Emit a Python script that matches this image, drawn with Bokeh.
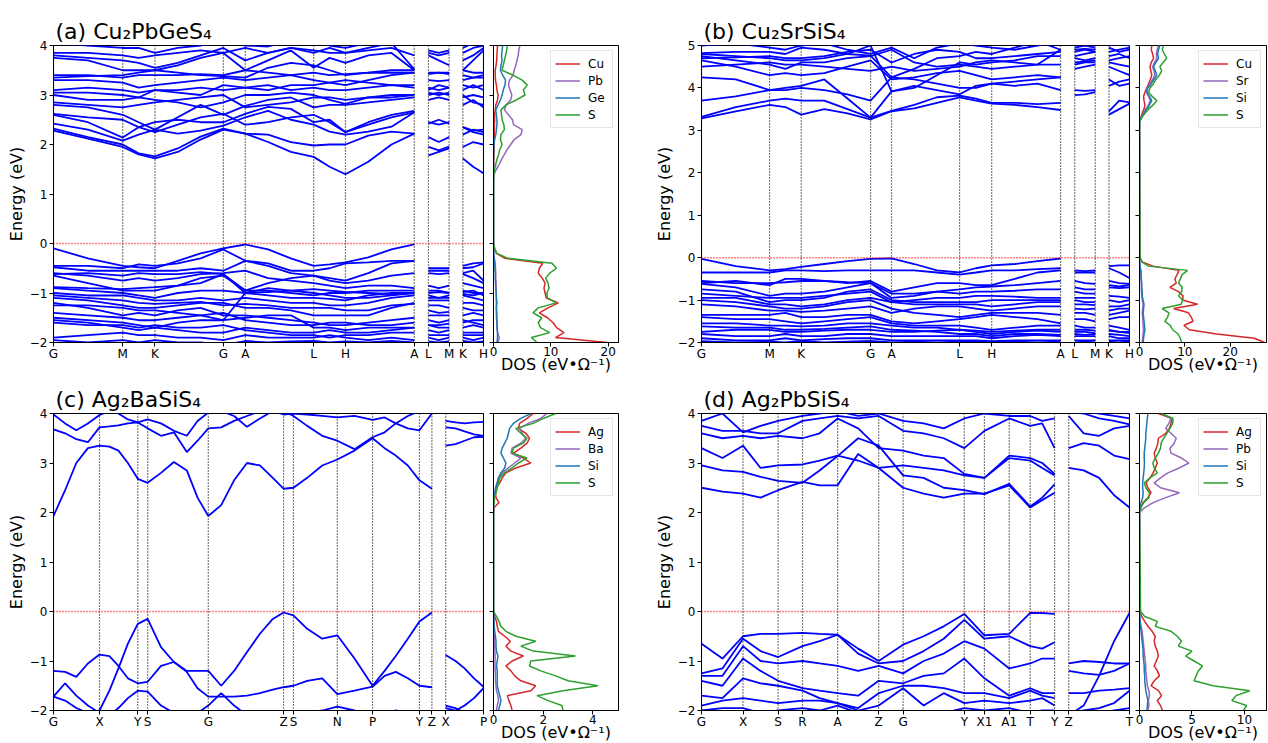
from bokeh.plotting import figure
from bokeh.layouts import row, column
from bokeh.models import Range1d, FixedTicker, Span
from bokeh.embed import file_html
from bokeh.resources import INLINE

FONT = "DejaVu Sans"
BAND_COLOR = "#0000ff"
SPECIES_COLORS = ["#d62728", "#9467bd", "#1f77b4", "#2ca02c"]
FRAME_H = 297

# ---------------------------------------------------------------- panel (a) Cu2PbGeS4
kpos_a = [0, 161, 236, 395, 446, 605, 679, 839, 872, 920, 952, 1000]
klab_a = ["G", "M", "K", "G", "A", "L", "H", "A", "L", "M", "K", "H"]
ksample_a = [0, 80, 161, 198, 236, 289, 342, 395, 446, 499, 552, 605, 642, 679, 732, 786, 839,
             872, 896, 920, 952, 976, 1000]
pieces_a = [(0, 17), (17, 20), (20, 23)]
cond_a = [
    [2.28, 2.12, 1.95, 1.80, 1.72, 1.85, 2.10, 2.30, 2.22, 2.05, 1.85, 1.75, 1.55, 1.40, 1.65, 2.00, 2.22, 1.78, 1.85, 1.92, 1.72, 1.55, 1.42],
    [2.32, 2.15, 2.00, 1.82, 1.76, 1.92, 2.16, 2.32, 2.22, 2.20, 2.05, 1.98, 2.00, 2.00, 2.18, 2.26, 2.22, 1.95, 1.88, 1.96, 1.95, 2.05, 2.00],
    [2.42, 2.30, 2.08, 2.20, 2.30, 2.22, 2.28, 2.38, 2.55, 2.68, 2.50, 2.40, 2.26, 2.20, 2.26, 2.36, 2.65, 2.15, 2.05, 2.15, 2.20, 2.30, 2.25],
    [2.60, 2.45, 2.14, 2.35, 2.45, 2.50, 2.45, 2.45, 2.62, 2.76, 2.72, 2.45, 2.50, 2.25, 2.45, 2.60, 2.68, 2.42, 2.50, 2.42, 2.35, 2.28, 2.30],
    [2.62, 2.55, 2.50, 2.35, 2.25, 2.40, 2.55, 2.62, 2.40, 2.45, 2.55, 2.60, 2.45, 2.25, 2.40, 2.55, 2.65, 2.45, 2.40, 2.45, 2.35, 2.25, 2.20],
    [2.80, 2.75, 2.60, 2.45, 2.30, 2.55, 2.80, 2.60, 2.78, 2.90, 2.95, 2.75, 2.80, 2.80, 2.85, 2.90, 2.95, 2.90, 2.95, 2.90, 2.80, 2.90, 2.75],
    [2.85, 2.80, 2.75, 2.80, 2.85, 2.90, 2.95, 3.00, 2.75, 2.80, 2.85, 2.95, 2.95, 2.90, 2.95, 2.95, 3.00, 3.00, 3.05, 3.00, 2.95, 3.00, 2.95],
    [3.00, 2.90, 2.90, 2.95, 2.90, 2.85, 2.75, 2.85, 3.00, 3.00, 3.05, 3.00, 2.90, 2.82, 2.95, 3.00, 3.00, 3.05, 3.00, 3.05, 3.00, 2.85, 2.80],
    [3.05, 3.05, 3.00, 2.95, 3.10, 3.05, 3.00, 3.20, 3.15, 3.20, 3.10, 3.15, 3.10, 3.10, 3.15, 3.20, 3.15, 3.10, 3.20, 3.15, 3.10, 3.20, 3.10],
    [3.10, 3.15, 3.10, 3.05, 3.10, 3.10, 3.15, 3.10, 3.15, 3.10, 3.20, 3.20, 3.25, 3.30, 3.25, 3.20, 3.20, 3.15, 3.10, 3.15, 3.20, 3.15, 3.20],
    [3.30, 3.30, 3.25, 3.15, 3.20, 3.25, 3.30, 3.35, 3.30, 3.35, 3.40, 3.30, 3.25, 3.20, 3.30, 3.40, 3.45, 3.30, 3.28, 3.30, 3.30, 3.35, 3.40],
    [3.35, 3.38, 3.40, 3.45, 3.50, 3.45, 3.40, 3.38, 3.35, 3.55, 3.65, 3.60, 3.50, 3.40, 3.45, 3.45, 3.45, 3.42, 3.45, 3.42, 3.40, 3.35, 3.35],
    [3.40, 3.40, 3.35, 3.40, 3.40, 3.40, 3.42, 3.40, 3.50, 3.45, 3.40, 3.45, 3.40, 3.42, 3.45, 3.50, 3.50, 3.45, 3.45, 3.45, 3.50, 3.45, 3.45],
    [3.75, 3.70, 3.50, 3.50, 3.50, 3.60, 3.75, 3.85, 3.50, 3.70, 3.90, 3.55, 3.75, 3.65, 3.80, 3.85, 3.50, 3.80, 3.70, 3.60, 3.50, 3.70, 3.90],
    [3.80, 3.75, 3.70, 3.65, 3.55, 3.65, 3.80, 3.95, 3.70, 3.85, 3.95, 3.85, 3.95, 3.85, 3.90, 3.95, 3.80, 3.85, 3.80, 3.85, 3.70, 3.80, 3.95],
    [3.85, 3.85, 3.80, 3.75, 3.80, 3.85, 3.90, 3.85, 3.95, 3.85, 3.95, 3.90, 3.85, 3.85, 3.95, 4.05, 3.52, 3.90, 3.85, 3.90, 3.85, 3.95, 4.00],
    [4.05, 4.00, 3.95, 3.95, 3.85, 3.95, 4.00, 4.10, 4.00, 3.98, 4.10, 4.10, 4.00, 3.95, 4.05, 4.10, 4.05, 4.05, 4.10, 4.05, 3.95, 4.05, 4.10],
]
val_a = [
    [-0.10, -0.30, -0.45, -0.48, -0.50, -0.35, -0.20, -0.10, -0.02, -0.12, -0.30, -0.45, -0.42, -0.38, -0.28, -0.12, -0.02, -0.50, -0.50, -0.50, -0.45, -0.40, -0.38],
    [-0.45, -0.45, -0.50, -0.42, -0.45, -0.40, -0.30, -0.12, -0.35, -0.40, -0.55, -0.55, -0.50, -0.40, -0.38, -0.35, -0.35, -0.55, -0.55, -0.55, -0.50, -0.48, -0.40],
    [-0.48, -0.55, -0.55, -0.55, -0.55, -0.55, -0.50, -0.55, -0.35, -0.45, -0.60, -0.65, -0.70, -0.75, -0.60, -0.40, -0.35, -0.85, -0.90, -0.85, -0.60, -0.55, -0.75],
    [-0.60, -0.65, -0.75, -0.70, -0.75, -0.70, -0.62, -0.60, -0.55, -0.70, -0.75, -0.80, -0.85, -0.90, -0.85, -0.85, -0.90, -0.95, -0.95, -1.00, -0.80, -0.85, -0.90],
    [-0.62, -0.60, -0.65, -0.60, -0.62, -0.62, -0.58, -0.62, -0.95, -0.80, -0.70, -0.65, -0.75, -0.80, -0.75, -0.65, -0.60, -0.60, -0.62, -0.60, -0.62, -0.70, -0.80],
    [-0.65, -0.80, -0.95, -0.95, -0.95, -0.85, -0.70, -0.65, -0.95, -0.95, -1.00, -1.05, -1.00, -1.00, -0.95, -0.95, -0.95, -1.05, -1.10, -1.05, -0.95, -1.00, -1.00],
    [-0.88, -0.90, -0.92, -0.90, -0.88, -0.85, -0.80, -0.62, -1.00, -0.98, -0.95, -0.92, -0.95, -0.98, -1.00, -1.02, -1.00, -1.00, -0.98, -1.00, -1.02, -1.05, -1.00],
    [-0.90, -0.95, -1.00, -1.05, -1.10, -1.00, -0.95, -0.95, -1.00, -1.05, -1.10, -1.10, -1.12, -1.15, -1.05, -1.00, -1.00, -1.15, -1.15, -1.15, -1.05, -1.10, -1.15],
    [-1.00, -1.05, -1.05, -1.10, -1.15, -1.15, -1.10, -1.15, -1.10, -1.15, -1.20, -1.20, -1.25, -1.25, -1.20, -1.10, -1.05, -1.25, -1.25, -1.30, -1.20, -1.20, -1.25],
    [-1.05, -1.10, -1.15, -1.20, -1.22, -1.20, -1.18, -1.25, -1.22, -1.25, -1.30, -1.30, -1.30, -1.35, -1.35, -1.25, -1.22, -1.35, -1.40, -1.38, -1.30, -1.35, -1.35],
    [-1.10, -1.15, -1.25, -1.30, -1.30, -1.25, -1.20, -1.20, -1.30, -1.30, -1.35, -1.45, -1.45, -1.45, -1.45, -1.30, -1.20, -1.45, -1.45, -1.45, -1.45, -1.40, -1.45],
    [-1.25, -1.25, -1.30, -1.35, -1.35, -1.40, -1.45, -1.55, -1.00, -0.90, -0.95, -1.00, -1.05, -1.10, -1.10, -1.05, -1.00, -1.10, -1.10, -1.10, -0.98, -0.95, -1.05],
    [-1.20, -1.30, -1.45, -1.40, -1.45, -1.35, -1.30, -1.45, -1.45, -1.50, -1.55, -1.60, -1.65, -1.65, -1.60, -1.55, -1.50, -1.55, -1.60, -1.55, -1.55, -1.60, -1.65],
    [-1.40, -1.45, -1.50, -1.55, -1.55, -1.50, -1.45, -1.40, -1.55, -1.60, -1.65, -1.65, -1.60, -1.60, -1.65, -1.65, -1.60, -1.65, -1.65, -1.62, -1.60, -1.55, -1.55],
    [-1.50, -1.55, -1.60, -1.65, -1.70, -1.60, -1.55, -1.55, -1.50, -1.45, -1.45, -1.70, -1.70, -1.75, -1.70, -1.70, -1.70, -1.65, -1.70, -1.70, -1.70, -1.65, -1.70],
    [-1.55, -1.60, -1.70, -1.75, -1.70, -1.75, -1.80, -1.80, -1.70, -1.75, -1.80, -1.80, -1.75, -1.80, -1.80, -1.75, -1.70, -1.75, -1.80, -1.75, -1.80, -1.80, -1.80],
    [-1.60, -1.65, -1.65, -1.70, -1.65, -1.70, -1.70, -1.65, -1.75, -1.80, -1.85, -1.85, -1.90, -1.85, -1.85, -1.80, -1.80, -1.85, -1.85, -1.85, -1.85, -1.85, -1.85],
    [-1.90, -1.85, -1.80, -1.85, -1.85, -1.90, -1.90, -1.95, -1.85, -1.90, -1.90, -1.90, -1.85, -1.90, -1.95, -1.90, -1.95, -1.90, -1.95, -1.90, -1.90, -1.95, -1.90],
    [-1.95, -2.00, -1.95, -2.00, -1.95, -2.00, -2.00, -2.05, -1.97, -2.00, -1.98, -1.97, -2.00, -1.98, -2.00, -1.97, -2.00, -1.98, -2.00, -1.98, -1.97, -2.00, -1.98],
]
dos_energy_a = [-2.0, -1.9, -1.8, -1.7, -1.6, -1.5, -1.4, -1.3, -1.2, -1.1, -1.0, -0.9, -0.8, -0.7, -0.6, -0.5, -0.4, -0.3, -0.2, -0.1, 0.0,
                1.3, 1.4, 1.5, 1.6, 1.7, 1.8, 1.9, 2.0, 2.1, 2.2, 2.3, 2.4, 2.5, 2.6, 2.7, 2.8, 2.9, 3.0, 3.1, 3.2, 3.3, 3.4, 3.5, 3.6, 3.7, 3.8, 3.9, 4.0]
species_a = ["Cu", "Pb", "Ge", "S"]
dos_cu_a = [19.8, 10.8, 12.3, 11.0, 10.4, 9.4, 8.0, 9.5, 11.3, 9.2, 9.0, 8.8, 9.0, 8.5, 7.8, 8.0, 8.6, 2.0, 0.5, 0.2, 0.0,
            0.0, 0.02, 0.03, 0.05, 0.05, 0.08, 0.1, 0.1, 0.12, 0.15, 0.15, 0.15, 0.2, 0.2, 0.3, 0.4, 0.7, 0.8, 0.6, 0.5, 0.35, 0.3, 0.3, 0.45, 0.55, 0.6, 0.65, 0.7]
dos_pb_a = [0.8, 1.0, 0.7, 0.6, 0.6, 0.5, 0.5, 0.5, 0.6, 0.5, 0.5, 0.45, 0.45, 0.4, 0.4, 0.35, 0.3, 0.15, 0.05, 0.02, 0.0,
            0.0, 0.1, 0.5, 1.0, 1.4, 1.9, 2.4, 3.0, 3.6, 4.8, 5.0, 3.5, 3.3, 2.6, 1.9, 2.2, 3.0, 3.2, 2.9, 2.6, 2.8, 3.4, 3.6, 3.9, 4.1, 4.3, 4.4, 4.6]
dos_ge_a = [0.6, 0.7, 0.7, 0.65, 0.6, 0.6, 0.55, 0.5, 0.5, 0.5, 0.45, 0.4, 0.35, 0.3, 0.3, 0.25, 0.2, 0.1, 0.05, 0.02, 0.0,
            0.0, 0.0, 0.0, 0.0, 0.01, 0.02, 0.05, 0.1, 0.2, 0.4, 0.5, 0.6, 0.6, 0.5, 0.4, 0.8, 1.2, 1.5, 1.7, 2.0, 2.1, 1.6, 1.2, 1.3, 1.5, 1.4, 1.5, 1.6]
dos_s_a = [7.6, 6.6, 9.8, 8.2, 7.8, 8.4, 6.9, 7.8, 10.9, 9.4, 9.3, 9.7, 9.5, 9.1, 9.8, 11.0, 10.2, 2.5, 0.6, 0.2, 0.0,
           0.0, 0.05, 0.2, 0.4, 0.6, 0.9, 1.1, 1.5, 1.2, 1.3, 1.9, 1.8, 1.5, 1.4, 1.3, 2.2, 4.0, 5.5, 5.2, 5.9, 5.0, 3.4, 1.5, 1.7, 1.9, 2.1, 2.3, 2.4]

# ---------------------------------------------------------------- panel (b) Cu2SrSiS4
kpos_b = [0, 159, 233, 395, 444, 603, 678, 839, 872, 920, 952, 1000]
klab_b = ["G", "M", "K", "G", "A", "L", "H", "A", "L", "M", "K", "H"]
ksample_b = [0, 80, 159, 196, 233, 287, 341, 395, 444, 497, 550, 603, 641, 678, 732, 785, 839,
             872, 896, 920, 952, 976, 1000]
pieces_b = [(0, 17), (17, 20), (20, 23)]
cond_b = [
    [3.28, 3.45, 3.60, 3.55, 3.37, 3.50, 3.40, 3.26, 3.45, 3.52, 3.65, 3.78, 3.70, 3.63, 3.60, 3.55, 3.48, 3.83, 3.85, 3.90, 3.37, 3.50, 3.63],
    [3.32, 3.55, 3.70, 3.75, 3.70, 3.70, 3.50, 3.30, 3.46, 3.60, 3.78, 3.82, 3.75, 3.65, 3.65, 3.62, 3.65, 3.95, 3.93, 3.95, 3.45, 3.70, 3.66],
    [3.70, 3.80, 3.95, 3.95, 4.00, 3.95, 3.85, 3.70, 4.25, 4.20, 4.10, 4.00, 4.00, 4.10, 4.15, 4.20, 4.25, 4.45, 4.50, 4.55, 4.20, 4.05, 4.10],
    [4.25, 4.20, 3.95, 4.00, 4.05, 4.20, 3.75, 3.30, 3.92, 4.05, 3.95, 3.85, 4.05, 4.10, 4.05, 4.10, 3.95, 4.55, 4.60, 4.60, 4.05, 4.15, 4.20],
    [4.50, 4.55, 4.60, 4.55, 4.55, 4.50, 4.45, 4.40, 4.50, 4.40, 4.45, 4.50, 4.60, 4.65, 4.60, 4.55, 4.55, 4.60, 4.62, 4.65, 4.75, 4.80, 4.70],
    [4.65, 4.50, 4.30, 4.35, 4.30, 4.35, 4.50, 4.65, 4.20, 4.25, 4.35, 4.40, 4.30, 4.20, 4.25, 4.30, 4.25, 4.70, 4.65, 4.70, 4.50, 4.40, 4.30],
    [4.70, 4.72, 4.75, 4.70, 4.70, 4.75, 4.85, 4.90, 4.60, 4.80, 4.90, 4.85, 4.70, 4.70, 4.75, 4.80, 4.85, 4.90, 4.92, 4.90, 4.85, 4.90, 4.95],
    [4.75, 4.65, 4.55, 4.45, 4.60, 4.60, 4.70, 4.75, 4.90, 4.60, 4.50, 4.55, 4.50, 4.45, 4.50, 4.55, 4.90, 4.75, 4.80, 4.85, 4.60, 4.55, 4.50],
    [4.80, 4.75, 4.70, 4.65, 4.65, 4.70, 4.80, 5.00, 3.92, 4.00, 4.30, 4.60, 4.55, 4.60, 4.65, 4.75, 4.75, 4.85, 4.90, 4.85, 4.65, 4.70, 4.75],
    [4.82, 4.85, 4.85, 4.80, 4.95, 4.90, 4.80, 4.76, 4.25, 4.45, 4.70, 4.75, 4.85, 4.80, 4.95, 5.10, 4.90, 4.95, 5.00, 4.95, 4.95, 4.85, 4.90],
    [5.00, 5.05, 4.95, 4.90, 5.00, 5.05, 4.90, 4.80, 4.95, 4.70, 4.95, 5.05, 5.00, 4.95, 4.90, 5.00, 5.10, 5.05, 5.05, 5.05, 5.00, 5.05, 5.00],
]
val_b = [
    [-0.03, -0.20, -0.30, -0.27, -0.22, -0.15, -0.08, -0.03, -0.02, -0.15, -0.30, -0.35, -0.25, -0.18, -0.15, -0.08, -0.02, -0.30, -0.32, -0.30, -0.20, -0.18, -0.18],
    [-0.35, -0.35, -0.35, -0.30, -0.30, -0.32, -0.30, -0.30, -0.30, -0.30, -0.35, -0.40, -0.35, -0.30, -0.30, -0.27, -0.25, -0.35, -0.35, -0.35, -0.25, -0.35, -0.48],
    [-0.55, -0.60, -0.60, -0.58, -0.55, -0.55, -0.58, -0.60, -0.95, -0.90, -0.80, -0.75, -0.70, -0.68, -0.65, -0.60, -0.55, -0.55, -0.60, -0.62, -0.55, -0.60, -0.62],
    [-0.60, -0.55, -0.65, -0.50, -0.50, -0.55, -0.60, -0.55, -0.80, -0.70, -0.60, -0.60, -0.65, -0.65, -0.50, -0.35, -0.30, -0.70, -0.75, -0.75, -0.65, -0.68, -0.65],
    [-0.62, -0.70, -0.90, -0.85, -0.85, -0.80, -0.70, -0.60, -0.85, -0.85, -0.80, -0.85, -0.80, -0.80, -0.78, -0.75, -0.75, -0.80, -0.85, -0.85, -0.70, -0.72, -0.70],
    [-0.75, -0.80, -1.05, -1.00, -1.00, -0.95, -0.80, -0.75, -1.00, -1.05, -1.05, -1.05, -1.05, -1.00, -1.00, -1.00, -1.00, -1.00, -1.05, -1.05, -1.00, -1.05, -1.00],
    [-0.85, -0.90, -0.95, -0.95, -0.95, -0.90, -0.85, -0.80, -1.05, -1.00, -0.95, -0.95, -0.90, -0.90, -0.92, -0.95, -0.95, -0.95, -0.95, -0.95, -0.90, -0.92, -0.95],
    [-0.95, -0.95, -1.10, -1.10, -1.15, -1.10, -1.00, -0.95, -1.05, -1.10, -1.10, -1.10, -1.10, -1.15, -1.10, -1.05, -1.05, -1.10, -1.10, -1.12, -1.15, -1.15, -1.10],
    [-1.00, -1.05, -1.15, -1.20, -1.20, -1.15, -1.05, -1.00, -1.20, -1.30, -1.35, -1.40, -1.35, -1.30, -1.30, -1.30, -1.35, -1.30, -1.30, -1.35, -1.35, -1.30, -1.25],
    [-1.10, -1.15, -1.25, -1.25, -1.28, -1.25, -1.20, -1.15, -1.30, -1.20, -1.15, -1.15, -1.20, -1.25, -1.20, -1.15, -1.15, -1.20, -1.22, -1.20, -1.25, -1.20, -1.20],
    [-1.35, -1.35, -1.35, -1.30, -1.40, -1.40, -1.35, -1.35, -1.50, -1.55, -1.50, -1.45, -1.40, -1.35, -1.40, -1.45, -1.55, -1.45, -1.45, -1.50, -1.45, -1.40, -1.40],
    [-1.40, -1.45, -1.45, -1.50, -1.55, -1.50, -1.45, -1.40, -1.55, -1.60, -1.60, -1.60, -1.65, -1.70, -1.65, -1.60, -1.60, -1.60, -1.65, -1.65, -1.60, -1.65, -1.70],
    [-1.55, -1.55, -1.60, -1.60, -1.62, -1.60, -1.55, -1.55, -1.60, -1.65, -1.65, -1.70, -1.72, -1.75, -1.72, -1.70, -1.70, -1.70, -1.70, -1.72, -1.72, -1.75, -1.78],
    [-1.62, -1.65, -1.65, -1.70, -1.70, -1.68, -1.65, -1.62, -1.70, -1.72, -1.75, -1.80, -1.80, -1.85, -1.80, -1.80, -1.82, -1.80, -1.82, -1.80, -1.80, -1.82, -1.85],
    [-1.75, -1.70, -1.70, -1.75, -1.75, -1.72, -1.70, -1.70, -1.75, -1.75, -1.72, -1.70, -1.75, -1.80, -1.75, -1.72, -1.75, -1.75, -1.75, -1.78, -1.70, -1.75, -1.75],
    [-1.80, -1.85, -1.85, -1.80, -1.85, -1.85, -1.80, -1.80, -1.85, -1.85, -1.85, -1.85, -1.85, -1.90, -1.85, -1.82, -1.85, -1.85, -1.85, -1.85, -1.85, -1.90, -1.90],
    [-1.90, -1.95, -1.95, -1.90, -1.95, -1.92, -1.90, -1.90, -1.95, -1.95, -1.95, -1.95, -1.95, -1.97, -1.95, -1.95, -1.95, -1.95, -1.95, -1.95, -1.95, -1.95, -1.95],
    [-1.97, -2.00, -1.98, -2.00, -1.97, -2.00, -1.98, -1.96, -2.00, -1.98, -2.00, -1.98, -1.97, -2.00, -1.98, -2.00, -1.98, -2.00, -1.98, -2.00, -1.98, -2.00, -1.97],
]
dos_energy_b = [-2.0, -1.9, -1.8, -1.7, -1.6, -1.5, -1.4, -1.3, -1.2, -1.1, -1.0, -0.9, -0.8, -0.7, -0.6, -0.5, -0.4, -0.3, -0.2, -0.1, 0.0,
                3.2, 3.3, 3.4, 3.5, 3.6, 3.7, 3.8, 3.9, 4.0, 4.1, 4.2, 4.3, 4.4, 4.5, 4.6, 4.7, 4.8, 4.9, 5.0]
species_b = ["Cu", "Sr", "Si", "S"]
dos_cu_b = [27.6, 25.3, 17.0, 11.0, 9.8, 11.8, 11.4, 10.8, 7.5, 12.8, 9.5, 9.6, 8.6, 6.7, 8.1, 7.8, 8.3, 8.7, 3.0, 0.6, 0.1,
            0.0, 0.3, 0.6, 1.0, 1.2, 1.0, 0.9, 1.2, 1.6, 2.0, 2.4, 2.7, 2.5, 2.3, 2.6, 3.1, 2.9, 2.6, 2.7]
dos_sr_b = [0.6, 0.7, 0.8, 0.9, 0.8, 0.75, 0.7, 0.6, 0.7, 0.8, 0.6, 0.5, 0.45, 0.4, 0.4, 0.35, 0.3, 0.25, 0.1, 0.03, 0.0,
            0.0, 0.35, 0.9, 1.4, 2.0, 2.4, 2.0, 1.5, 1.7, 2.3, 2.9, 3.4, 3.2, 2.9, 3.3, 3.8, 3.7, 3.9, 4.2]
dos_si_b = [0.8, 0.9, 1.0, 1.2, 1.1, 1.0, 0.9, 0.8, 0.9, 1.0, 0.8, 0.6, 0.6, 0.5, 0.5, 0.4, 0.35, 0.3, 0.1, 0.03, 0.0,
            0.0, 0.4, 1.0, 1.6, 2.2, 2.7, 2.2, 1.6, 1.8, 2.6, 3.2, 3.8, 3.5, 3.1, 3.6, 4.2, 4.0, 4.2, 4.5]
dos_s_b = [9.3, 9.0, 8.5, 7.3, 6.8, 5.6, 6.2, 6.5, 5.0, 9.2, 9.5, 8.6, 9.3, 9.4, 8.6, 9.0, 9.4, 10.6, 2.0, 0.5, 0.1,
           0.0, 0.5, 1.2, 2.0, 3.0, 3.8, 2.8, 2.0, 2.3, 3.1, 3.6, 4.4, 4.9, 4.5, 5.2, 6.0, 5.5, 5.0, 5.3]

# ---------------------------------------------------------------- panel (c) Ag2BaSiS4
kpos_c = [0, 107, 196, 219, 360, 535, 558, 660, 742, 851, 880, 912, 1000]
klab_c = ["G", "X", "Y", "S", "G", "Z", "S", "N", "P", "Y", "Z", "X", "P"]
ksample_c = [0, 27, 53, 80, 107, 130, 151, 173, 196, 219, 250, 280, 310, 335, 360, 390, 420, 450,
             480, 510, 535, 558, 590, 625, 660, 700, 742, 770, 796, 824, 851, 880,
             912, 935, 956, 978, 1000]
pieces_c = [(0, 32), (32, 37)]
cond_c = [
    [1.93, 2.45, 3.00, 3.30, 3.35, 3.33, 3.25, 3.00, 2.68, 2.60, 2.80, 3.02, 2.85, 2.30, 1.93, 2.15,
     2.65, 3.00, 2.95, 2.70, 2.48, 2.50, 2.70, 2.95, 3.07, 3.25, 3.50, 3.30, 3.15, 2.95, 2.65, 2.48,
     3.35, 3.38, 3.45, 3.52, 3.53],
    [3.68, 3.60, 3.48, 3.42, 3.72, 3.74, 3.76, 3.80, 3.82, 3.70, 3.55, 3.62, 3.22, 3.45, 3.70, 3.72,
     3.85, 3.95, 4.05, 4.10, 4.05, 3.95, 3.75, 3.55, 3.45, 3.28, 3.52, 3.62, 3.80, 3.95, 4.05, 4.10,
     3.72, 3.70, 3.64, 3.58, 3.55],
    [3.98, 3.80, 3.66, 3.80, 3.97, 4.05, 4.00, 3.88, 3.82, 3.88, 3.80, 3.65, 3.55, 3.85, 4.02, 4.05,
     3.95, 3.73, 3.90, 4.05, 3.98, 4.00, 3.98, 3.95, 3.92, 3.95, 3.87, 3.92, 3.80, 3.70, 3.66, 4.00,
     3.85, 3.82, 3.80, 3.82, 3.83],
]
val_c = [
    [-1.20, -1.22, -1.32, -1.05, -0.87, -0.90, -1.10, -1.35, -1.45, -1.42, -1.10, -1.02, -1.20, -1.20, -1.20, -1.50,
     -1.20, -0.82, -0.45, -0.15, -0.02, -0.08, -0.35, -0.55, -0.48, -0.95, -1.50, -1.20, -0.90, -0.55, -0.20, -0.02,
     -0.88, -1.00, -1.15, -1.35, -1.52],
    [-1.72, -1.80, -1.95, -2.05, -2.00, -1.60, -1.15, -0.65, -0.25, -0.15, -0.72, -1.02, -1.22, -1.55, -1.72, -1.72,
     -1.72, -1.70, -1.65, -1.58, -1.53, -1.50, -1.40, -1.35, -1.67, -1.60, -1.52, -1.30, -1.22, -1.35, -1.50, -1.53,
     -1.95, -2.00, -1.90, -1.75, -1.55],
    [-1.72, -1.45, -1.70, -1.90, -2.05, -2.10, -1.95, -1.75, -1.60, -1.62, -1.90, -2.05, -2.10, -2.05, -1.90, -1.65,
     -1.90, -2.10, -2.20, -2.20, -2.15, -2.10, -2.05, -2.00, -1.92, -2.00, -2.10, -2.05, -2.00, -2.05, -2.10, -2.15,
     -1.90, -1.95, -2.05, -2.10, -2.15],
]
dos_energy_c = [-2.0, -1.9, -1.8, -1.7, -1.6, -1.5, -1.4, -1.3, -1.2, -1.1, -1.0, -0.9, -0.8, -0.7, -0.6, -0.5, -0.4, -0.3, -0.2, -0.1, 0.0,
                2.0, 2.1, 2.2, 2.3, 2.4, 2.5, 2.6, 2.7, 2.8, 2.9, 3.0, 3.1, 3.2, 3.3, 3.4, 3.5, 3.6, 3.7, 3.8, 3.9, 4.0]
species_c = ["Ag", "Ba", "Si", "S"]
dos_ag_c = [0.75, 0.7, 0.62, 0.56, 1.5, 1.7, 1.1, 0.85, 0.7, 0.5, 0.75, 1.2, 0.7, 0.5, 0.68, 0.45, 0.2, 0.15, 0.12, 0.05, 0.0,
            0.0, 0.03, 0.22, 0.1, 0.08, 0.12, 0.25, 0.35, 0.5, 0.9, 1.5, 1.2, 0.8, 1.1, 1.35, 1.45, 1.3, 1.0, 1.05, 1.35, 1.6]
dos_ba_c = [0.12, 0.15, 0.2, 0.18, 0.12, 0.1, 0.08, 0.08, 0.07, 0.06, 0.06, 0.07, 0.05, 0.04, 0.04, 0.03, 0.02, 0.02, 0.01, 0.0, 0.0,
            0.0, 0.0, 0.01, 0.03, 0.05, 0.08, 0.15, 0.2, 0.35, 0.6, 0.85, 1.1, 0.7, 0.75, 1.1, 1.3, 1.15, 1.05, 1.4, 1.9, 2.15]
dos_si_c = [0.2, 0.25, 0.3, 0.25, 0.2, 0.15, 0.15, 0.15, 0.15, 0.12, 0.15, 0.18, 0.12, 0.1, 0.1, 0.08, 0.05, 0.03, 0.02, 0.01, 0.0,
            0.0, 0.0, 0.0, 0.02, 0.05, 0.1, 0.15, 0.2, 0.3, 0.45, 0.5, 0.4, 0.3, 0.35, 0.45, 0.55, 0.6, 0.65, 0.8, 1.1, 1.5]
dos_s_c = [2.8, 2.75, 2.2, 1.75, 2.8, 4.2, 3.0, 2.5, 1.9, 1.45, 1.5, 3.3, 1.6, 1.1, 1.7, 0.9, 0.5, 0.3, 0.22, 0.12, 0.0,
           0.0, 0.0, 0.02, 0.05, 0.1, 0.15, 0.2, 0.25, 0.45, 0.75, 1.0, 1.35, 0.75, 0.8, 1.2, 1.35, 1.1, 0.9, 1.6, 2.0, 2.5]

# ---------------------------------------------------------------- panel (d) Ag2PbSiS4
kpos_d = [0, 97, 179, 236, 318, 414, 471, 614, 661, 719, 768, 825, 858, 1000]
klab_d = ["G", "X", "S", "R", "A", "Z", "G", "Y", "X1", "A1", "T", "Y", "Z", "T"]
ksample_d = [0, 49, 97, 138, 179, 236, 276, 318, 366, 414, 471, 519, 566, 614, 661, 719, 768, 796, 825,
             858, 893, 929, 964, 1000]
pieces_d = [(0, 19), (19, 24)]
cond_d = [
    [2.50, 2.42, 2.38, 2.30, 2.45, 2.62, 2.55, 2.55, 3.18, 2.90, 2.50, 2.38, 2.30, 2.38, 2.38, 2.55, 2.10, 2.25, 2.40, 2.90, 2.85, 2.70, 2.35, 2.10],
    [2.95, 2.85, 2.82, 2.72, 2.64, 2.60, 2.85, 3.14, 3.50, 3.35, 2.75, 2.70, 2.50, 2.45, 2.37, 2.58, 2.12, 2.30, 2.57, 3.30, 3.40, 3.35, 3.15, 3.08],
    [3.30, 3.10, 3.35, 2.90, 2.95, 2.97, 3.05, 3.15, 3.05, 2.90, 2.95, 2.90, 2.85, 2.75, 2.70, 3.10, 3.05, 2.90, 2.75, 3.95, 3.60, 3.55, 3.70, 3.75],
    [3.60, 3.50, 3.55, 3.50, 3.55, 3.50, 3.60, 3.90, 3.70, 3.30, 3.25, 3.15, 3.10, 2.78, 2.70, 3.15, 3.10, 3.00, 2.78, 4.05, 4.00, 3.90, 3.85, 3.78],
    [3.75, 3.65, 3.65, 3.60, 3.60, 3.85, 3.90, 3.95, 3.90, 3.95, 3.65, 3.60, 3.50, 3.30, 3.65, 3.90, 3.75, 3.80, 3.30, 4.10, 4.05, 4.00, 3.95, 3.90],
    [3.85, 4.00, 3.62, 3.75, 3.85, 3.95, 4.00, 4.05, 3.95, 4.00, 3.85, 3.80, 3.70, 3.90, 4.00, 3.95, 3.95, 3.85, 3.90, 4.20, 4.10, 4.05, 4.05, 4.00],
]
val_d = [
    [-0.65, -0.95, -0.50, -0.45, -0.45, -0.43, -0.45, -0.47, -0.75, -1.00, -0.67, -0.50, -0.30, -0.05, -0.48, -0.45, -0.03, -0.03, -0.05, -1.05, -1.00, -1.02, -1.05, -1.05],
    [-1.25, -1.15, -0.55, -0.80, -0.92, -0.70, -0.60, -0.47, -0.85, -1.05, -1.00, -0.80, -0.55, -0.17, -0.55, -0.50, -0.70, -0.75, -0.62, -1.20, -1.25, -1.28, -1.20, -1.05],
    [-1.30, -1.30, -0.70, -1.00, -1.05, -1.00, -1.05, -1.10, -1.20, -1.10, -1.25, -1.00, -0.85, -0.60, -0.75, -1.15, -1.05, -0.95, -0.95, -1.65, -1.65, -1.60, -1.58, -1.55],
    [-1.40, -1.50, -0.95, -1.20, -1.40, -1.55, -1.60, -1.65, -1.70, -1.40, -1.45, -1.30, -1.25, -0.95, -1.35, -1.70, -1.55, -1.65, -1.65, -2.10, -1.90, -1.30, -0.60, -0.03],
    [-1.70, -1.75, -1.35, -1.45, -1.50, -1.60, -1.75, -1.85, -1.95, -1.65, -1.50, -1.50, -1.55, -1.65, -1.65, -1.75, -1.60, -1.70, -1.75, -2.05, -2.00, -1.95, -1.85, -1.60],
    [-1.90, -1.80, -1.75, -1.80, -1.85, -1.80, -1.80, -1.85, -2.00, -1.90, -1.55, -1.90, -1.65, -1.85, -1.80, -1.85, -1.80, -1.75, -1.90, -2.15, -2.10, -2.05, -2.00, -1.95],
    [-2.00, -1.95, -1.95, -2.05, -2.00, -1.95, -2.00, -1.90, -2.05, -2.10, -2.00, -2.10, -2.05, -1.95, -2.00, -1.95, -2.05, -2.00, -2.00, -2.20, -2.20, -2.20, -2.20, -2.20],
]
dos_energy_d = [-2.0, -1.9, -1.8, -1.7, -1.6, -1.5, -1.4, -1.3, -1.2, -1.1, -1.0, -0.9, -0.8, -0.7, -0.6, -0.5, -0.4, -0.3, -0.2, -0.1, 0.0,
                2.0, 2.1, 2.2, 2.3, 2.4, 2.5, 2.6, 2.7, 2.8, 2.9, 3.0, 3.1, 3.2, 3.3, 3.4, 3.5, 3.6, 3.7, 3.8, 3.9, 4.0]
species_d = ["Ag", "Pb", "Si", "S"]
dos_ag_d = [2.2, 2.0, 1.7, 2.1, 1.8, 1.1, 1.4, 1.9, 1.7, 1.4, 1.6, 1.8, 1.7, 1.5, 1.4, 1.5, 1.2, 0.8, 0.5, 0.2, 0.05,
            0.0, 0.15, 0.35, 0.8, 1.1, 0.8, 0.63, 1.0, 1.3, 1.5, 1.7, 1.5, 1.4, 1.6, 1.75, 1.8, 2.5, 2.85, 3.0, 3.1, 1.8]
dos_pb_d = [0.8, 0.9, 0.85, 0.95, 0.9, 0.75, 0.7, 0.65, 0.6, 0.6, 0.55, 0.5, 0.45, 0.4, 0.35, 0.3, 0.25, 0.15, 0.08, 0.03, 0.0,
            0.0, 0.5, 1.3, 2.5, 3.8, 2.0, 1.4, 2.0, 2.7, 3.8, 4.7, 4.0, 3.0, 2.9, 3.3, 3.5, 3.0, 2.5, 2.8, 3.0, 2.1]
dos_si_d = [0.7, 0.75, 0.8, 0.7, 0.6, 0.55, 0.5, 0.5, 0.45, 0.45, 0.4, 0.35, 0.35, 0.3, 0.25, 0.2, 0.15, 0.1, 0.05, 0.02, 0.0,
            0.0, 0.05, 0.15, 0.3, 0.35, 0.3, 0.3, 0.35, 0.4, 0.45, 0.47, 0.45, 0.45, 0.5, 0.55, 0.6, 0.6, 0.65, 0.7, 0.75, 0.8]
dos_s_d = [9.9, 10.2, 8.8, 9.2, 10.5, 7.0, 5.2, 5.4, 5.6, 6.0, 5.2, 4.4, 5.0, 3.7, 4.0, 3.6, 3.0, 1.5, 1.7, 0.5, 0.1,
           0.0, 0.1, 0.4, 0.9, 0.95, 0.6, 0.47, 1.0, 1.7, 1.4, 1.27, 1.5, 1.8, 2.0, 2.06, 2.3, 2.6, 2.9, 3.16, 3.2, 2.1]


def minus(v):
    return str(v).replace("-", "\u2212")


def style_axes(p):
    for ax in p.axis:
        ax.axis_line_color = "black"
        ax.major_tick_line_color = "black"
        ax.major_tick_in = 0
        ax.major_tick_out = 4
        ax.minor_tick_line_color = None
        ax.major_label_text_font = FONT
        ax.major_label_text_font_size = "12px"
        ax.major_label_text_color = "black"
        ax.major_label_standoff = 0
        ax.axis_label_text_font = FONT
        ax.axis_label_text_font_style = "normal"
        ax.axis_label_text_color = "black"
        ax.axis_label_standoff = 1
    p.xgrid.visible = False
    p.ygrid.visible = False
    p.outline_line_color = "black"
    p.outline_line_alpha = 1.0
    p.outline_line_width = 1


def band_panel(title, kpos, klab, ksample, pieces, cond, val, y_range, yticks,
               frame_w, border_top, border_bottom):
    p = figure(frame_width=frame_w, frame_height=FRAME_H, x_range=Range1d(0, 1000), y_range=y_range,
               output_backend="svg", toolbar_location=None, title=title,
               min_border_left=53, min_border_right=5, min_border_top=border_top,
               min_border_bottom=border_bottom)
    xs, ys = [], []
    for band in cond + val:
        for i0, i1 in pieces:
            seg_y = band[i0:i1]
            seg_x = ksample[i0:i0 + len(seg_y)]
            xs.append(seg_x)
            ys.append(seg_y)
    p.multi_line(xs=xs, ys=ys, line_color=BAND_COLOR, line_width=1.8)
    for k in kpos:
        p.add_layout(Span(location=k, dimension="height", line_color="black",
                          line_dash="1 2", line_width=1.2))
    p.add_layout(Span(location=0, dimension="width", line_color="#ff0000",
                      line_dash="1 2", line_width=1.5))
    style_axes(p)
    p.xaxis.ticker = FixedTicker(ticks=kpos)
    p.xaxis.major_label_overrides = dict(zip(kpos, klab))
    p.yaxis.ticker = FixedTicker(ticks=yticks)
    p.yaxis.major_label_overrides = {t: minus(t) for t in yticks}
    p.yaxis.major_label_standoff = 2
    p.yaxis.axis_label = "Energy (eV)"
    p.yaxis.axis_label_text_font_size = "16px"
    p.title.text_font = FONT
    p.title.text_font_size = "22px"
    p.title.text_font_style = "normal"
    p.title.text_color = "black"
    p.title.align = "left"
    p.title.standoff = 3
    p.title.offset = 2
    return p


def dos_panel(energy, names, curves, y_range, yticks, xmax, xticks, frame_w, border_right,
              border_top, border_bottom):
    p = figure(frame_width=frame_w, frame_height=FRAME_H, x_range=Range1d(0, xmax), y_range=y_range,
               output_backend="svg", toolbar_location=None, title=None,
               min_border_left=5, min_border_right=border_right, min_border_top=border_top,
               min_border_bottom=border_bottom)
    for name, vals, color in zip(names, curves, SPECIES_COLORS):
        p.line(x=vals, y=energy[:len(vals)], line_color=color, line_width=1.5, legend_label=name)
    style_axes(p)
    p.xaxis.ticker = FixedTicker(ticks=xticks)
    p.xaxis.axis_label = "DOS (eV\u2022\u03a9\u207b\u00b9)"
    p.xaxis.axis_label_text_font_size = "16px"
    p.xaxis.axis_label_standoff = -4
    p.yaxis.ticker = FixedTicker(ticks=yticks)
    p.yaxis.major_label_overrides = {t: "" for t in yticks}
    p.yaxis.major_label_standoff = 0
    lg = p.legend[0]
    lg.location = "top_right"
    lg.margin = 5
    lg.padding = 4
    lg.spacing = 0
    lg.glyph_width = 25
    lg.glyph_height = 17
    lg.label_height = 17
    lg.label_standoff = 8
    lg.label_text_font = FONT
    lg.label_text_font_size = "12px"
    lg.label_text_color = "black"
    lg.border_line_color = "#cccccc"
    lg.border_line_width = 1
    lg.background_fill_alpha = 0.8
    return p


TOP1, BOT1 = 45, 40
TOP2, BOT2 = 31, 33

yr_a = Range1d(-2, 4)
yr_b = Range1d(-2, 5)
yr_c = Range1d(-2, 4)
yr_d = Range1d(-2, 4)
yt_46 = [-2, -1, 0, 1, 2, 3, 4]
yt_57 = [-2, -1, 0, 1, 2, 3, 4, 5]

fig_a = band_panel("(a) Cu\u2082PbGeS\u2084", kpos_a, klab_a, ksample_a, pieces_a, cond_a, val_a,
                   yr_a, yt_46, 430, TOP1, BOT1)
dos_a = dos_panel(dos_energy_a, species_a, [dos_cu_a, dos_pb_a, dos_ge_a, dos_s_a], yr_a, yt_46,
                  21.8, [0, 10, 20], 125, 30, TOP1, BOT1)
fig_b = band_panel("(b) Cu\u2082SrSiS\u2084", kpos_b, klab_b, ksample_b, pieces_b, cond_b, val_b,
                   yr_b, yt_57, 428, TOP1, BOT1)
dos_b = dos_panel(dos_energy_b, species_b, [dos_cu_b, dos_sr_b, dos_si_b, dos_s_b], yr_b, yt_57,
                  28.0, [0, 10, 20], 127, 2, TOP1, BOT1)

fig_c = band_panel("(c) Ag\u2082BaSiS\u2084", kpos_c, klab_c, ksample_c, pieces_c, cond_c, val_c,
                   yr_c, yt_46, 430, TOP2, BOT2)
dos_c = dos_panel(dos_energy_c, species_c, [dos_ag_c, dos_ba_c, dos_si_c, dos_s_c], yr_c, yt_46,
                  5.03, [0, 2, 4], 125, 30, TOP2, BOT2)
fig_d = band_panel("(d) Ag\u2082PbSiS\u2084", kpos_d, klab_d, ksample_d, pieces_d, cond_d, val_d,
                   yr_d, yt_46, 428, TOP2, BOT2)
dos_d = dos_panel(dos_energy_d, species_d, [dos_ag_d, dos_pb_d, dos_si_d, dos_s_d], yr_d, yt_46,
                  12.1, [0, 5, 10], 127, 2, TOP2, BOT2)

layout = column(row(fig_a, dos_a, fig_b, dos_b, spacing=0),
                row(fig_c, dos_c, fig_d, dos_d, spacing=0), spacing=0)

open("out.html", "w").write(file_html(layout, INLINE))
